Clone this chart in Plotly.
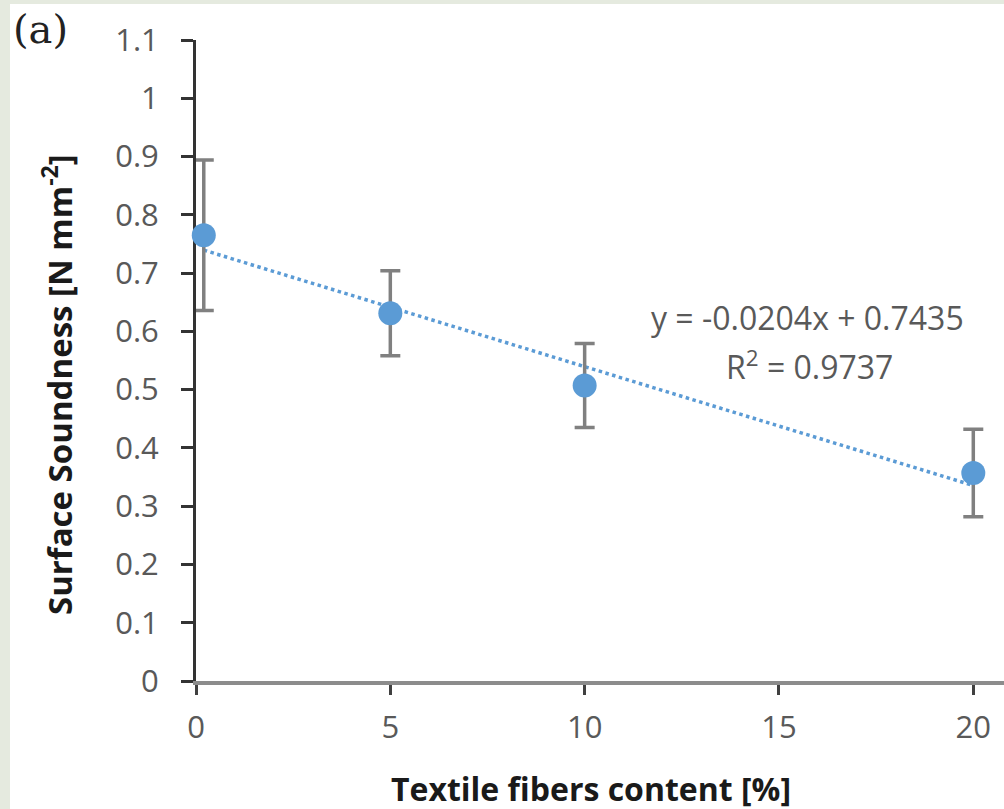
import plotly.graph_objects as go

# ---- data ----
fiber_content = [0.2, 5, 10, 20]
surface_soundness = [0.765, 0.631, 0.507, 0.357]
soundness_err = [0.129, 0.073, 0.072, 0.075]

trend_slope = -0.0204
trend_intercept = 0.7435
trend_r2 = 0.9737

x_ticks = [0, 5, 10, 15, 20]
y_ticks = [0, 0.1, 0.2, 0.3, 0.4, 0.5, 0.6, 0.7, 0.8, 0.9, 1, 1.1]
y_ticktext = ["0", "0.1", "0.2", "0.3", "0.4", "0.5", "0.6", "0.7", "0.8", "0.9", "1", "1.1"]

x_title = "<b>Textile fibers content [%]</b>"
y_title = "<b>Surface Soundness [N mm<sup>-2</sup>]</b>"

trend_x = [fiber_content[0], fiber_content[-1]]
trend_y = [trend_slope * v + trend_intercept for v in trend_x]

BLUE = "#5b9bd5"
GREY_TXT = "#595959"
FONT = "Open Sans"

fig = go.Figure()

fig.add_trace(go.Scatter(
    x=trend_x, y=trend_y, mode="lines",
    line=dict(color=BLUE, width=3.5, dash="dot"),
    hoverinfo="skip", showlegend=False, cliponaxis=False,
))

fig.add_trace(go.Scatter(
    x=fiber_content, y=surface_soundness, mode="markers",
    marker=dict(color=BLUE, size=24),
    error_y=dict(type="data", array=soundness_err, visible=True,
                 color="#808080", thickness=3.5, width=10),
    showlegend=False, cliponaxis=False,
))

W, H = 1004, 809
L, R, T, B = 196, 0, 40, 128
pw = W - L - R
ph = H - T - B

fig.update_layout(
    width=W, height=H,
    margin=dict(l=L, r=R, t=T, b=B, autoexpand=False),
    paper_bgcolor="#e5eadf",
    plot_bgcolor="rgba(0,0,0,0)",
    font=dict(family=FONT, color=GREY_TXT),
    shapes=[dict(type="rect", xref="paper", yref="paper",
                 x0=(10 - L) / pw, x1=1.05,
                 y0=-(B + 20) / ph, y1=1 + (T - 4) / ph,
                 fillcolor="white", line=dict(width=0), layer="below")],
    xaxis=dict(
        range=[0, 20.79], tickvals=x_ticks, ticktext=[str(v) for v in x_ticks],
        showgrid=False, zeroline=False,
        showline=True, linecolor="#8c8c8c", linewidth=4,
        ticks="outside", ticklen=10, tickwidth=3, tickcolor="#404040",
        tickfont=dict(family=FONT, size=31, color=GREY_TXT),
        ticklabelstandoff=6,
        layer="below traces",
    ),
    yaxis=dict(
        range=[0, 1.1], tickvals=y_ticks, ticktext=y_ticktext,
        showgrid=False, zeroline=False,
        showline=True, linecolor="#333333", linewidth=3,
        ticks="outside", ticklen=12, tickwidth=3, tickcolor="#333333",
        tickfont=dict(family=FONT, size=31, color=GREY_TXT),
        ticklabelstandoff=16,
        layer="below traces",
    ),
    annotations=[
        dict(xref="x", yref="y", x=15.74, y=0.623,
             text=f"y = {trend_slope:.4f}x + {trend_intercept:.4f}",
             showarrow=False, align="center", yanchor="middle",
             font=dict(family=FONT, size=32, color=GREY_TXT)),
        dict(xref="x", yref="y", x=15.78, y=0.543,
             text="R<sup>2</sup> = " + f"{trend_r2:.4f}",
             showarrow=False, align="center", yanchor="middle",
             font=dict(family=FONT, size=32, color=GREY_TXT)),
        dict(xref="paper", yref="paper", x=(11 - L) / pw, y=1 + (T - 4) / ph,
             xanchor="left", yanchor="top", text="(a)", showarrow=False,
             font=dict(family="DejaVu Serif", size=40, color="#222222")),
        dict(xref="paper", yref="paper", x=(591 - L) / pw, y=-(788 - (H - B)) / ph,
             xanchor="center", yanchor="middle", text=x_title, showarrow=False,
             font=dict(family=FONT, size=32, color="#1a1a1a")),
        dict(xref="paper", yref="paper", x=(57 - L) / pw, y=((H - B) - 385) / ph,
             xanchor="center", yanchor="middle", text=y_title, showarrow=False,
             textangle=-90,
             font=dict(family=FONT, size=33, color="#1a1a1a")),
    ],
)

fig.write_html("out.html", config={"displayModeBar": False},
               post_script="document.body.style.margin='0';document.body.style.padding='0';")
